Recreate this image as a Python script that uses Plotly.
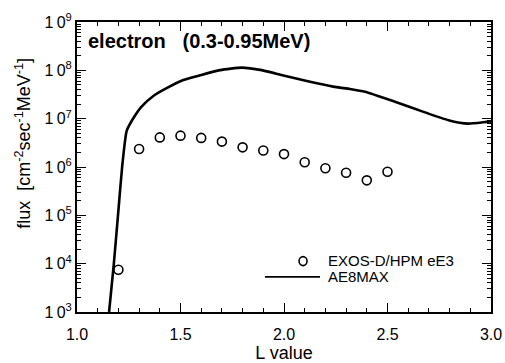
import plotly.graph_objects as go

# EXOS-D/HPM eE3 channel: measured electron flux vs L
L_obs = [1.2, 1.3, 1.4, 1.5, 1.6, 1.7, 1.8, 1.9, 2.0, 2.1, 2.2, 2.3, 2.4, 2.5]
flux_obs = [7.5e3, 2.35e6, 4.1e6, 4.45e6, 4.0e6, 3.35e6, 2.55e6, 2.2e6,
            1.85e6, 1.25e6, 9.4e5, 7.6e5, 5.3e5, 8.0e5]

# AE8MAX model flux for the same energy band
L_model = [1.155, 1.178, 1.198, 1.218, 1.240, 1.272, 1.312, 1.369, 1.433,
           1.514, 1.594, 1.691, 1.796, 1.892, 1.997, 2.11, 2.238, 2.319,
           2.391, 2.536, 2.681, 2.794, 2.89, 2.987, 3.0]
flux_model = [1.0e3, 1.0e4, 1.0e5, 1.0e6, 5.6e6, 1.02e7, 1.78e7, 2.95e7,
              4.27e7, 6.3e7, 7.9e7, 1.01e8, 1.14e8, 1.01e8, 7.8e7, 6.0e7,
              4.6e7, 4.1e7, 3.6e7, 2.24e7, 1.35e7, 9.3e6, 7.9e6, 8.7e6, 8.7e6]

y_exponents = [3, 4, 5, 6, 7, 8, 9]
y_tickvals = [10 ** e for e in y_exponents]
y_ticktext = ["1\u20090<sup>%d</sup>" % e for e in y_exponents]
y_minor = [m * 10 ** e for e in y_exponents[:-1] for m in range(2, 10)]

FONT = "Liberation Sans, Arial, Helvetica, sans-serif"

fig = go.Figure()
fig.add_trace(go.Scatter(
    x=L_model, y=flux_model, mode="lines",
    line=dict(color="black", width=2.6, shape="spline", smoothing=0.5),
    name="AE8MAX", showlegend=False,
))
fig.add_trace(go.Scatter(
    x=L_obs, y=flux_obs, mode="markers",
    marker=dict(symbol="circle-open", size=9, color="black",
                line=dict(width=1.6, color="black")),
    name="EXOS-D/HPM eE3", showlegend=False,
))

axis_common = dict(
    showline=True, linecolor="black", linewidth=2, mirror="allticks",
    ticks="inside", tickcolor="black", tickwidth=1.3,
    showgrid=False, zeroline=False, automargin=False,
    tickfont=dict(family=FONT, size=16, color="black"),
)

fig.update_xaxes(
    range=[1.0, 3.0], tickmode="linear", tick0=1.0, dtick=0.5,
    tickformat=".1f", ticklen=9, ticklabelstandoff=7,
    minor=dict(ticks="inside", ticklen=4, dtick=0.1, tick0=1.0,
               tickcolor="black", tickwidth=1),
    title=dict(text="L value", font=dict(family=FONT, size=18, color="black"),
               standoff=10),
    **axis_common,
)
fig.update_yaxes(
    type="log", range=[3, 9], tickmode="array",
    tickvals=y_tickvals, ticktext=y_ticktext, ticklen=9,
    minor=dict(ticks="inside", ticklen=4, tickvals=y_minor,
               tickcolor="black", tickwidth=1),
    **axis_common,
)

annotations = [
    dict(text="<b>electron\u00a0\u00a0\u00a0(0.3-0.95MeV)</b>",
         xref="paper", yref="paper", x=0.022, y=0.935,
         xanchor="left", yanchor="middle", showarrow=False,
         font=dict(family=FONT, size=20, color="black")),
    dict(text="flux  [cm<sup>-2</sup>sec<sup>-1</sup>MeV<sup>-1</sup>]",
         xref="paper", yref="paper", x=-0.130, y=0.581, textangle=-90,
         xanchor="center", yanchor="middle", showarrow=False,
         font=dict(family=FONT, size=18, color="black")),
    dict(text="EXOS-D/HPM eE3", xref="paper", yref="paper",
         x=0.601, y=0.178, xanchor="left", yanchor="middle", showarrow=False,
         font=dict(family=FONT, size=15, color="black")),
    dict(text="AE8MAX", xref="paper", yref="paper",
         x=0.601, y=0.121, xanchor="left", yanchor="middle", showarrow=False,
         font=dict(family=FONT, size=15, color="black")),
]

# legend keys: open circle and solid line, in plot-area fractions
shapes = [
    dict(type="circle", xref="paper", yref="paper",
         x0=0.5363, x1=0.5557, y0=0.1600, y1=0.1910,
         line=dict(color="black", width=1.6)),
    dict(type="line", xref="paper", yref="paper",
         x0=0.454, x1=0.587, y0=0.121, y1=0.121,
         line=dict(color="black", width=1.6)),
]

fig.update_layout(
    width=505, height=363,
    margin=dict(l=77, r=14, t=22, b=51),
    paper_bgcolor="white", plot_bgcolor="white",
    showlegend=False,
    annotations=annotations, shapes=shapes,
    font=dict(family=FONT, color="black"),
)

fig.write_html("out.html")
